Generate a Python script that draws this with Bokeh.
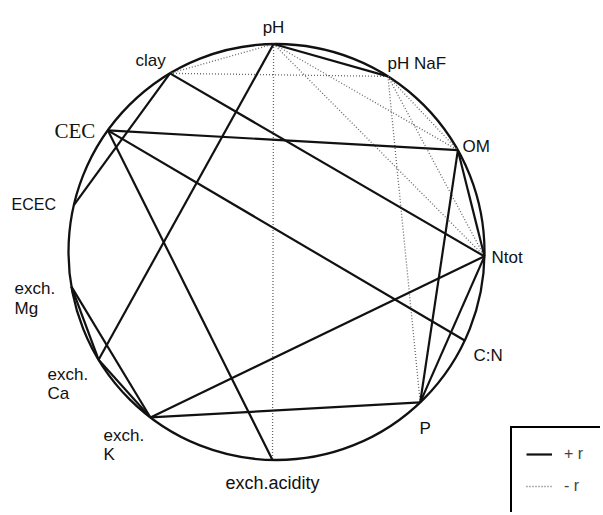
import numpy as np
from bokeh.plotting import figure
from bokeh.models import Range1d, Legend, LegendItem, ColumnDataSource
from bokeh.core.properties import value
from bokeh.embed import file_html
from bokeh.resources import INLINE

# ---- data ----
variables = ["pH", "pH NaF", "OM", "Ntot", "C:N", "P", "exch.acidity",
             "exch.K", "exch.Ca", "exch.Mg", "ECEC", "CEC", "clay"]
angles_deg = [90.8, 57.6, 29.3, -1.2, -25.2, -46.3, -91.1,
              -127.3, -148.8, -170.4, 167.0, 144.2, 120.8]

pos_links = [("pH", "pH NaF"), ("pH", "exch.Ca"), ("clay", "Ntot"), ("clay", "ECEC"),
             ("CEC", "OM"), ("CEC", "C:N"), ("CEC", "exch.acidity"),
             ("exch.Mg", "exch.Ca"), ("exch.Mg", "exch.K"), ("exch.Ca", "exch.K"),
             ("exch.K", "Ntot"), ("exch.K", "P"), ("OM", "P"), ("OM", "Ntot"),
             ("Ntot", "P")]
neg_links = [("pH", "clay"), ("clay", "pH NaF"), ("pH", "exch.acidity"),
             ("pH", "OM"), ("pH", "Ntot"), ("pH NaF", "P"), ("pH NaF", "Ntot"),
             ("pH NaF", "OM")]

legend_labels = ["+ r", "- r"]

# ---- layout (page pixels -> unit circle coords) ----
CX, CY, R = 276.0, 251.5, 208.0
OX, OY = 0, 0          # observed page origin of the canvas
W, H = 600, 512


def to_data(px, py):
    return (px - CX) / R, (CY - py) / R


x0, y_top = to_data(OX, OY)
x1, y_bot = to_data(OX + W, OY + H)

p = figure(width=W, height=H, x_range=Range1d(x0, x1), y_range=Range1d(y_bot, y_top),
           output_backend="svg", toolbar_location=None, min_border=0)
p.axis.visible = False
p.grid.visible = False
p.outline_line_color = None
p.background_fill_color = "white"

ang = dict(zip(variables, np.radians(angles_deg)))
nx = {k: np.cos(a) for k, a in ang.items()}
ny = {k: np.sin(a) for k, a in ang.items()}

# circle
p.circle(x=[0], y=[0], radius=1, fill_color=None, line_color="#111111", line_width=2.3)


def link_source(links):
    return ColumnDataSource(dict(xs=[[nx[a], nx[b]] for a, b in links],
                                 ys=[[ny[a], ny[b]] for a, b in links]))


neg_r = p.multi_line(xs="xs", ys="ys", source=link_source(neg_links),
                     line_color="#666666", line_width=1.3, line_dash="1 2")
pos_r = p.multi_line(xs="xs", ys="ys", source=link_source(pos_links),
                     line_color="#111111", line_width=2.2)

# labels: (text, page x, page y, align, font, size)
label_layout = [
    ("pH", 273, 27, "center", "Liberation Sans", "17px"),
    ("pH NaF", 387, 63, "left", "Liberation Sans", "17px"),
    ("clay", 135, 60, "left", "Liberation Sans", "17px"),
    ("OM", 462, 146, "left", "Liberation Sans", "17px"),
    ("CEC", 54, 130, "left", "Liberation Serif", "21px"),
    ("ECEC", 11, 204, "left", "Liberation Sans", "16px"),
    ("exch.", 14, 288, "left", "Liberation Sans", "17px"),
    ("Mg", 14, 308, "left", "Liberation Sans", "17px"),
    ("exch.", 47, 374, "left", "Liberation Sans", "17px"),
    ("Ca", 47, 393, "left", "Liberation Sans", "17px"),
    ("exch.", 103, 435, "left", "Liberation Sans", "17px"),
    ("K", 103, 454, "left", "Liberation Sans", "17px"),
    ("exch.acidity", 272, 482, "center", "Liberation Sans", "18px"),
    ("P", 419, 428, "left", "Liberation Sans", "17px"),
    ("C:N", 473, 355, "left", "Liberation Sans", "17px"),
    ("Ntot", 491, 257, "left", "Liberation Sans", "17px"),
]
for txt, px, py, al, font, size in label_layout:
    lx, ly = to_data(px, py)
    p.text(x=[lx], y=[ly], text=[txt], text_align=al, text_baseline="middle",
           text_font=value(font), text_font_size=size, text_color="#111111")

# legend box: left at page x 510, top at page y 430 (right edge runs off the page)
legend = Legend(items=[LegendItem(label=legend_labels[0], renderers=[pos_r]),
                       LegendItem(label=legend_labels[1], renderers=[neg_r])],
                location=(510 - OX, (OY + H) - 514), margin=0, padding=14, spacing=8,
                glyph_width=26, glyph_height=24, label_standoff=12,
                label_text_font="Liberation Sans", label_text_font_size="16px",
                border_line_color="#000000", border_line_width=2, border_line_alpha=1.0,
                background_fill_color="white", background_fill_alpha=1.0,
                label_width=60)
p.add_layout(legend)

open("out.html", "w").write(file_html(p, INLINE))
